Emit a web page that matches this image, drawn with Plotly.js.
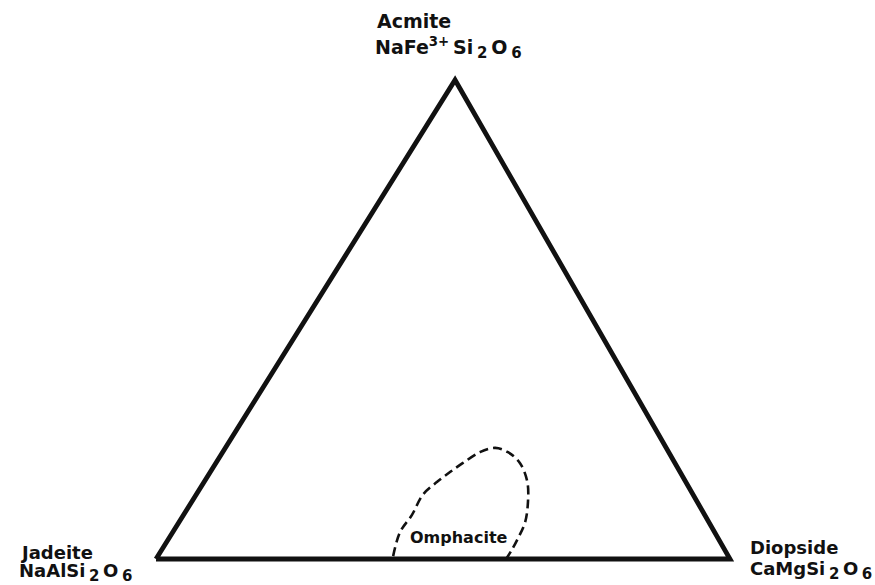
<!DOCTYPE html>
<html>
<head>
<meta charset="utf-8">
<script src="https://cdn.plot.ly/plotly-3.0.1.min.js"></script>
<style>html,body{margin:0;padding:0;background:#fff;}#chart{width:875px;height:585px;}</style>
</head>
<body>
<div id="chart"></div>
<script>
// End-member composition triangle (fractions of Acmite and Diopside; Jadeite = remainder)
const vertexNames = ['Jadeite', 'Diopside', 'Acmite', 'Jadeite'];
const triangleAc = [0, 0, 1, 0];
const triangleDi = [0, 1, 0, 0];

// Omphacite field boundary (fraction Acmite, fraction Diopside)
const omphaciteAc = [0.006, 0.056, 0.092, 0.134, 0.161, 0.182, 0.200, 0.223, 0.232, 0.223, 0.200, 0.161, 0.119, 0.077, 0.044, 0.019, 0.002];
const omphaciteDi = [0.410, 0.396, 0.398, 0.395, 0.406, 0.418, 0.430, 0.448, 0.470, 0.497, 0.530, 0.563, 0.586, 0.603, 0.608, 0.610, 0.610];

// labels
const TS = '\u2009';
const sub = d => TS + '<sub><span style="font-size:15px">' + d + '</span></sub>' + TS;
const nameAcmite = 'Acmite';
const formulaAcmite = 'NaFe<sup>3+</sup>' + TS + 'Si' + sub('2') + 'O' + sub('6');
const nameJadeite = 'Jadeite';
const formulaJadeite = 'NaAlSi' + sub('2') + 'O' + sub('6');
const nameDiopside = 'Diopside';
const formulaDiopside = 'CaMgSi' + sub('2') + 'O' + sub('6');
const labelField = 'Omphacite';

// ternary -> cartesian (apex drawn slightly right of centre, as in the original)
const APEX_SHIFT = 0.521;
const toX = (ac, di) => ac.map((a, i) => di[i] + APEX_SHIFT * a);
const toY = (ac) => ac.slice();

const W = 875, H = 585;
const px = v => v / W, py = v => 1 - v / H;

const FAMILY = '"DejaVu Sans", "Liberation Sans", Arial, sans-serif';
const lab = size => ({family: FAMILY, size: size, color: '#111', weight: 'bold'});
const note = (text, x, yTop, size) => ({
  text: text, xref: 'paper', yref: 'paper', x: px(x), y: py(yTop),
  xanchor: 'left', yanchor: 'top', align: 'left', showarrow: false, font: lab(size)
});

const traces = [
  {
    type: 'scatter', mode: 'lines',
    x: toX(triangleAc, triangleDi), y: toY(triangleAc),
    text: vertexNames, hoverinfo: 'text',
    line: {color: '#111', width: 4.8},
    showlegend: false
  },
  {
    type: 'scatter', mode: 'lines',
    x: toX(omphaciteAc, omphaciteDi), y: toY(omphaciteAc),
    line: {color: '#111', width: 2.6, dash: '9px,5px', shape: 'spline', smoothing: 1},
    showlegend: false, hoverinfo: 'skip'
  }
];

const layout = {
  width: W, height: H,
  margin: {l: 0, r: 0, t: 0, b: 0},
  paper_bgcolor: '#fff', plot_bgcolor: '#fff',
  xaxis: {range: [-0.2718, 1.2526], visible: false, fixedrange: true},
  yaxis: {range: [-0.0543, 1.1670], visible: false, fixedrange: true},
  font: lab(18),
  annotations: [
    note(nameAcmite, 375, 8, 19),
    note(formulaAcmite, 373, 32, 19),
    note(nameJadeite, 18, 540, 18),
    note(formulaJadeite, 17, 558, 18),
    note(nameDiopside, 748, 535, 18),
    note(formulaDiopside, 748, 556, 18),
    {text: labelField, xref: 'paper', yref: 'paper', x: px(459), y: py(537), xanchor: 'center', yanchor: 'middle', showarrow: false, font: lab(16)}
  ]
};

Plotly.newPlot('chart', traces, layout, {staticPlot: true, displayModeBar: false});
</script>
</body>
</html>
